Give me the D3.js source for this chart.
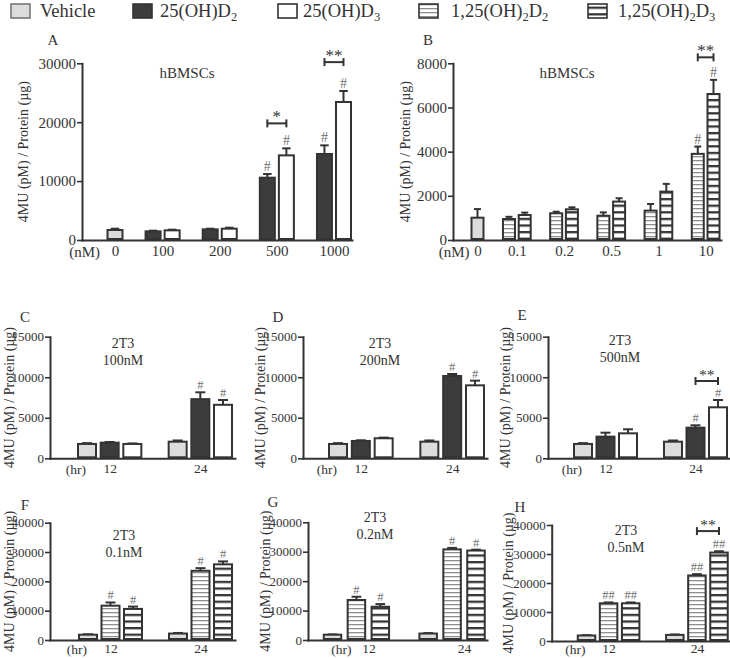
<!DOCTYPE html>
<html><head><meta charset="utf-8">
<script src="https://cdn.jsdelivr.net/npm/d3@7"></script>
<style>
body{margin:0;background:#fff}
svg{display:block}
text{font-family:"Liberation Serif","Times New Roman",serif;fill:#333}
</style>
</head><body>
<svg id="c" width="730" height="658"></svg>
<script>
// ---------------- DATA ----------------
const seriesKeys = ["veh","d2","d3","p2","p3"];
const legendLabels = [["Vehicle"],["25(OH)D","2"],["25(OH)D","3"],["1,25(OH)","2","D","2"],["1,25(OH)","2","D","3"]];

// Panel A (hBMSCs, 25(OH)D2 / 25(OH)D3, nM)
const aCategories = ["0","100","200","500","1000"];
const aTicks = [0,10000,20000,30000];
const aVehicle = [1700], aVehicleErr = [220];
const aD2 = [1470,1810,10580,14600], aD2Err = [110,110,620,1470], aD2Marks = ["","","#","#"];
const aD3 = [1640,1920,14370,23430], aD3Err = [110,170,1190,1870], aD3Marks = ["","","#","#"];
const aSig = [{cat:"500", level:19800, text:"*"},{cat:"1000", level:30200, text:"**"}];

// Panel B (hBMSCs, 1,25(OH)2D2 / 1,25(OH)2D3, nM)
const bCategories = ["0","0.1","0.2","0.5","1","10"];
const bTicks = [0,2000,4000,6000,8000];
const bVehicle = [1010], bVehicleErr = [390];
const bP2 = [950,1210,1100,1330,3900], bP2Err = [100,70,150,300,330], bP2Marks = ["","","","","#"];
const bP3 = [1130,1390,1740,2190,6610], bP3Err = [110,90,150,350,640], bP3Marks = ["","","","","#"];
const bSig = [{cat:"10", level:8270, text:"**"}];

// Panels C-E (2T3, 25(OH)D2 / 25(OH)D3, hr)
const timeCategories = ["12","24"];
const cdeTicks = [0,5000,10000,15000];
const cVehicle = [1770,2050], cVehicleErr = [100,150];
const cD2 = [1930,7300], cD2Err = [80,840], cD2Marks = ["","#"];
const cD3 = [1770,6600], cD3Err = [60,590], cD3Marks = ["","#"];
const dVehicle = [1770,2050], dVehicleErr = [100,150];
const dD2 = [2140,10150], dD2Err = [80,250], dD2Marks = ["","#"];
const dD3 = [2470,9000], dD3Err = [80,580], dD3Marks = ["","#"];
const eVehicle = [1770,2050], eVehicleErr = [100,150];
const eD2 = [2670,3780], eD2Err = [490,290], eD2Marks = ["","#"];
const eD3 = [3080,6290], eD3Err = [500,900], eD3Marks = ["","#"];
const eSig = [{cat:"24", level:9535, text:"**"}];

// Panels F-H (2T3, 1,25(OH)2D2 / 1,25(OH)2D3, hr)
const fghTicks = [0,10000,20000,30000,40000];
const fVehicle = [1800,2200], fVehicleErr = [150,200];
const fP2 = [11700,23600], fP2Err = [1100,900], fP2Marks = ["#","#"];
const fP3 = [10600,25800], fP3Err = [800,1000], fP3Marks = ["#","#"];
const gVehicle = [1800,2200], gVehicleErr = [100,150];
const gP2 = [13600,30800], gP2Err = [1100,500], gP2Marks = ["#","#"];
const gP3 = [11300,30400], gP3Err = [900,300], gP3Marks = ["#","#"];
const hVehicle = [1900,2100], hVehicleErr = [100,150];
const hP2 = [13000,22600], hP2Err = [300,450], hP2Marks = ["##","##"];
const hP3 = [13000,30500], hP3Err = [300,450], hP3Marks = ["##","##"];
const hSig = [{cat:"24", level:37900, text:"**"}];

// ---------------- BUILD ----------------
function bar(key, v, e, m){ return {key, v, e, m: m || ""}; }
function doseGroups(cats, veh, vehErr, k1, s1, e1, m1, k2, s2, e2, m2){
  const gs = [{label: cats[0], bars:[bar("veh", veh[0], vehErr[0], "")]}];
  cats.slice(1).forEach((c,i)=>gs.push({label:c, bars:[bar(k1,s1[i],e1[i],m1[i]), bar(k2,s2[i],e2[i],m2[i])]}));
  return gs;
}
function timeGroups(cats, veh, vehErr, k1, s1, e1, m1, k2, s2, e2, m2){
  return cats.map((c,i)=>({label:c, bars:[bar("veh",veh[i],vehErr[i],""), bar(k1,s1[i],e1[i],m1[i]), bar(k2,s2[i],e2[i],m2[i])]}));
}

const panels = [
  {groups: doseGroups(aCategories,aVehicle,aVehicleErr,"d2",aD2,aD2Err,aD2Marks,"d3",aD3,aD3Err,aD3Marks), ticks:aTicks, sig:aSig,
   L:{letter:"A", lx:53, ly:45, title:["hBMSCs"], tx:187, ty:78, tfs:15, axisX:82, yTop:63.3, yBottom:240, first:115, last:343.5, barW:17, xEnd:352, unit:"(nM)", unitOff:15, labShift:0, ylabX:23, tickFs:15, xFs:15, pad:5, mFs:14}},
  {groups: doseGroups(bCategories,bVehicle,bVehicleErr,"p2",bP2,bP2Err,bP2Marks,"p3",bP3,bP3Err,bP3Marks), ticks:bTicks, sig:bSig,
   L:{letter:"B", lx:428, ly:45, title:["hBMSCs"], tx:567, ty:78, tfs:15, axisX:453, yTop:63.3, yBottom:240, first:477.5, last:713.5, barW:14, xEnd:721, unit:"(nM)", unitOff:8, labShift:0, ylabX:405, tickFs:15, xFs:15, pad:5, mFs:14}},
  {groups: timeGroups(timeCategories,cVehicle,cVehicleErr,"d2",cD2,cD2Err,cD2Marks,"d3",cD3,cD3Err,cD3Marks), ticks:cdeTicks, sig:[],
   L:{letter:"C", lx:25, ly:322, title:["2T3","100nM"], tx:123, ty:348, tfs:14, axisX:50, yTop:336.7, yBottom:458.3, first:87, last:223, barW:20, xEnd:235, unit:"(hr)", unitOff:1, labShift:0, ylabX:9, tickFs:13, xFs:13.5, pad:5, mFs:12.5}},
  {groups: timeGroups(timeCategories,dVehicle,dVehicleErr,"d2",dD2,dD2Err,dD2Marks,"d3",dD3,dD3Err,dD3Marks), ticks:cdeTicks, sig:[],
   L:{letter:"D", lx:278, ly:322, title:["2T3","200nM"], tx:380, ty:348, tfs:14, axisX:303, yTop:336.7, yBottom:458.3, first:338, last:475, barW:20, xEnd:487, unit:"(hr)", unitOff:1, labShift:0, ylabX:260, tickFs:13, xFs:13.5, pad:5, mFs:12.5}},
  {groups: timeGroups(timeCategories,eVehicle,eVehicleErr,"d2",eD2,eD2Err,eD2Marks,"d3",eD3,eD3Err,eD3Marks), ticks:cdeTicks, sig:eSig,
   L:{letter:"E", lx:522, ly:320, title:["2T3","500nM"], tx:620, ty:345, tfs:14, axisX:548, yTop:336.7, yBottom:458.3, first:583, last:718, barW:20, xEnd:730, unit:"(hr)", unitOff:1, labShift:0, ylabX:505, tickFs:13, xFs:13.5, pad:5, mFs:12.5}},
  {groups: timeGroups(timeCategories,fVehicle,fVehicleErr,"p2",fP2,fP2Err,fP2Marks,"p3",fP3,fP3Err,fP3Marks), ticks:fghTicks, sig:[],
   L:{letter:"F", lx:25, ly:510, title:["2T3","0.1nM"], tx:124, ty:540, tfs:14, axisX:50, yTop:522.7, yBottom:640, first:88, last:223, barW:20, xEnd:235, unit:"(hr)", unitOff:1, labShift:0, ylabX:9, tickFs:13, xFs:13.5, pad:3, mFs:12.5}},
  {groups: timeGroups(timeCategories,gVehicle,gVehicleErr,"p2",gP2,gP2Err,gP2Marks,"p3",gP3,gP3Err,gP3Marks), ticks:fghTicks, sig:[],
   L:{letter:"G", lx:273, ly:507, title:["2T3","0.2nM"], tx:375, ty:522, tfs:14, axisX:308, yTop:522.3, yBottom:640, first:332.5, last:476, barW:19.5, xEnd:487, unit:"(hr)", unitOff:-7, labShift:12, ylabX:265, tickFs:13, xFs:13.5, pad:3, mFs:12.5}},
  {groups: timeGroups(timeCategories,hVehicle,hVehicleErr,"p2",hP2,hP2Err,hP2Marks,"p3",hP3,hP3Err,hP3Marks), ticks:fghTicks, sig:hSig,
   L:{letter:"H", lx:520, ly:512, title:["2T3","0.5nM"], tx:626, ty:535, tfs:14, axisX:551.7, yTop:525, yBottom:641, first:586.5, last:719, barW:19.5, xEnd:730, unit:"(hr)", unitOff:1, labShift:0, ylabX:508, tickFs:13, xFs:13.5, pad:2, mFs:12.5}}
];

// ---------------- DRAW ----------------
const svg = d3.select("#c");
const ink = "#333";
const defs = svg.append("defs");
const pL = defs.append("pattern").attr("id","stripeLight").attr("patternUnits","userSpaceOnUse").attr("width",8).attr("height",4);
pL.append("rect").attr("width",8).attr("height",4).attr("fill","#fff");
pL.append("rect").attr("width",8).attr("height",1.3).attr("fill","#8f8f8f");
const pD = defs.append("pattern").attr("id","stripeDark").attr("patternUnits","userSpaceOnUse").attr("width",8).attr("height",6.6);
pD.append("rect").attr("width",8).attr("height",6.6).attr("fill","#fff");
pD.append("rect").attr("width",8).attr("height",2.3).attr("fill","#353535");
const fills = {veh:"#dcdcdc", d2:"#3c3c3c", d3:"#ffffff", p2:"url(#stripeLight)", p3:"url(#stripeDark)"};

// legend (layout positions of the swatches)
const legendBoxX = {veh:10, d2:132, d3:277, p2:418, p3:587};
const legTextOff = {veh:30, d2:28, d3:26, p2:33, p3:31};
const leg = svg.append("g");
seriesKeys.forEach((k,i)=>{
  const x = legendBoxX[k];
  leg.append("rect").attr("x", x+1).attr("y", 4).attr("width", 19).attr("height", 14)
     .attr("fill", fills[k]).attr("stroke", k==="veh" ? "#777" : ink).attr("stroke-width", 1.6);
  const t = leg.append("text").attr("x", x + legTextOff[k]).attr("y", 17).attr("font-size", 18.5);
  const parts = legendLabels[i];
  parts.forEach((p,j)=>{
    const sub = j % 2 === 1;
    t.append("tspan").text(p).attr("font-size", sub ? 12.5 : null).attr("dy", sub ? 4 : (j>0 ? -4 : 0));
  });
});

function drawPanel(P){
  const L = P.L;
  const g = svg.append("g");
  const yMax = P.ticks[P.ticks.length-1];
  const y = d3.scaleLinear().domain([0, yMax]).range([L.yBottom, L.yTop]);
  let s = 0;
  P.groups.forEach(gr=>{ gr.bars.forEach(b=>b.slot = s++); gr.center = d3.mean(gr.bars, b=>b.slot); s++; });
  const lastSlot = s - 2;
  const xs = d3.scaleLinear().domain([0, lastSlot]).range([L.first, L.last]);
  const xAx = d3.scaleLinear().domain([xs.invert(L.axisX), xs.invert(L.xEnd)]).range([L.axisX, L.xEnd]);

  // y axis
  const ya = g.append("g").attr("transform", `translate(${L.axisX},0)`)
    .call(d3.axisLeft(y).tickValues(P.ticks).tickSize(5).tickSizeOuter(0).tickPadding(1).tickFormat(d3.format("d")));
  ya.attr("font-family", "Liberation Serif").attr("font-size", L.tickFs).style("color", ink);
  ya.select(".domain").attr("stroke-width", 2).attr("stroke-linecap", "square");
  ya.selectAll(".tick line").attr("stroke-width", 1.6);

  // x axis
  const xa = g.append("g").attr("transform", `translate(0,${L.yBottom})`)
    .call(d3.axisBottom(xAx).tickValues(P.groups.map(d=>d.center)).tickSize(0).tickSizeOuter(0).tickPadding(L.pad)
      .tickFormat((d,i)=>P.groups[i].label));
  xa.attr("font-family", "Liberation Serif").attr("font-size", L.xFs).style("color", ink);
  xa.select(".domain").attr("stroke-width", 2).attr("stroke-linecap", "square");
  xa.selectAll(".tick text").attr("dx", L.labShift);
  xa.append("text").attr("x", L.first - L.unitOff + L.labShift).attr("y", L.pad + 1).attr("dy", "0.71em")
    .attr("text-anchor", "end").attr("fill", ink).text(L.unit);

  // bars
  const bars = P.groups.flatMap(gr=>gr.bars);
  const capW = L.barW * 0.5;
  bars.forEach(b=>{
    const xc = xs(b.slot);
    const top = y(b.v), et = y(b.v + b.e);
    g.append("line").attr("x1", xc).attr("x2", xc).attr("y1", top).attr("y2", et).attr("stroke", ink).attr("stroke-width", 2);
    g.append("line").attr("x1", xc - capW/2).attr("x2", xc + capW/2).attr("y1", et).attr("y2", et).attr("stroke", ink).attr("stroke-width", 2);
    g.append("rect").attr("x", xc - L.barW/2 + 1).attr("y", top).attr("width", L.barW - 2).attr("height", y(0) - top - 1)
      .attr("fill", fills[b.key]).attr("stroke", ink).attr("stroke-width", 2);
    if (b.m) g.append("text").attr("x", xc).attr("y", et - 3).attr("text-anchor", "middle")
      .attr("font-size", L.mFs).style("fill", "#6f6f6f").text(b.m);
  });

  // significance brackets
  P.sig.forEach(sg=>{
    const gr = P.groups.find(d=>d.label === sg.cat);
    const x1 = xs(gr.bars[gr.bars.length-2].slot), x2 = xs(gr.bars[gr.bars.length-1].slot);
    const yy = y(sg.level);
    g.append("line").attr("x1", x1).attr("x2", x2).attr("y1", yy).attr("y2", yy).attr("stroke", ink).attr("stroke-width", 2);
    [x1, x2].forEach(xx=>g.append("line").attr("x1", xx).attr("x2", xx).attr("y1", yy-4).attr("y2", yy+4).attr("stroke", ink).attr("stroke-width", 2));
    g.append("text").attr("x", (x1+x2)/2).attr("y", yy - 1).attr("text-anchor", "middle")
      .attr("font-size", L.mFs + 3).style("fill", ink).text(sg.text);
  });

  // titles and labels
  g.append("text").attr("x", L.lx).attr("y", L.ly).attr("text-anchor", "middle").attr("font-size", 15).text(L.letter);
  L.title.forEach((t,i)=>g.append("text").attr("x", L.tx).attr("y", L.ty + i*17).attr("text-anchor", "middle").attr("font-size", L.tfs).text(t));
  g.append("text").attr("transform", `translate(${L.ylabX},${(L.yTop + L.yBottom)/2}) rotate(-90)`)
    .attr("text-anchor", "middle").attr("dy", "0.35em").attr("font-size", 14).text("4MU (pM) / Protein (\u00b5g)");
}
panels.forEach(drawPanel);
</script>
</body></html>
